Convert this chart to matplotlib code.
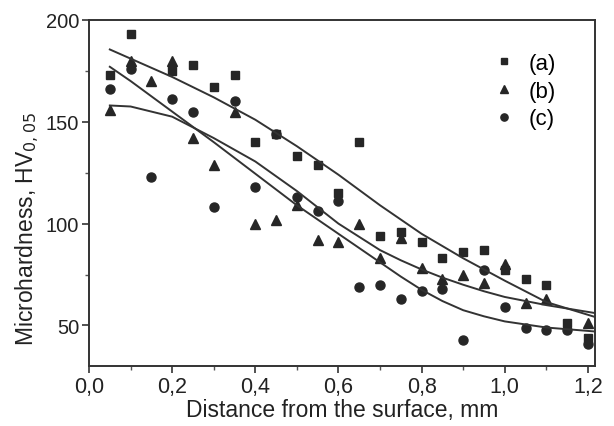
import matplotlib
matplotlib.use("Agg")
import matplotlib.pyplot as plt
from matplotlib.ticker import MultipleLocator, FuncFormatter

plt.rcParams['font.family'] = ['Liberation Sans', 'DejaVu Sans']

# measured points
x_a = [0.05, 0.1, 0.2, 0.25, 0.3, 0.35, 0.4, 0.45, 0.5, 0.55, 0.6, 0.65,
       0.7, 0.75, 0.8, 0.85, 0.9, 0.95, 1.0, 1.05, 1.1, 1.15, 1.2]
y_a = [173, 193, 175, 178, 167, 173, 140, 144, 133, 129, 115, 140,
       94, 96, 91, 83, 86, 87, 77, 73, 70, 51, 44]

x_b = [0.05, 0.1, 0.15, 0.2, 0.25, 0.3, 0.35, 0.4, 0.45, 0.5, 0.55, 0.6,
       0.65, 0.7, 0.75, 0.8, 0.85, 0.9, 0.95, 1.0, 1.05, 1.1, 1.2]
y_b = [156, 180, 170, 180, 142, 129, 155, 100, 102, 109, 92, 91,
       100, 83, 93, 78, 73, 75, 71, 80, 61, 63, 51]

x_c = [0.05, 0.1, 0.15, 0.2, 0.25, 0.3, 0.35, 0.4, 0.45, 0.5, 0.55, 0.6,
       0.65, 0.7, 0.75, 0.8, 0.85, 0.9, 0.95, 1.0, 1.05, 1.1, 1.15, 1.2]
y_c = [166, 176, 123, 161, 155, 108, 160, 118, 144, 113, 106, 111,
       69, 70, 63, 67, 68, 43, 77, 59, 49, 48, 48, 41]

# fitted curves
fit_x = [0.05, 0.1, 0.2, 0.3, 0.4, 0.5, 0.6, 0.7, 0.75, 0.8, 0.85, 0.9, 0.95,
         1.0, 1.1, 1.22]
fit_a = [185.5, 181, 172, 162, 151, 138, 124, 109, 102, 95, 89, 83, 77.5,
         72, 61.5, 54]
fit_b = [158, 157.5, 152.5, 142, 130.5, 116, 100, 87, 82, 77.5, 73.5, 70, 66.8,
         64, 60, 56]
fit_c = [177, 170, 155, 140, 124.5, 109, 95, 81, 74, 67.5, 62, 57.5, 54.5,
         52, 49, 47]

labels = ['(a)', '(b)', '(c)']

dark = '#262626'

fig = plt.figure(figsize=(6.14, 4.27), dpi=100)
ax = fig.add_axes([0.145, 0.14, 0.824, 0.811])

ax.plot(x_a, y_a, 's', color=dark, ms=5.5, label=labels[0])
ax.plot(x_b, y_b, '^', color=dark, ms=7.5, label=labels[1])
ax.plot(x_c, y_c, 'o', color=dark, ms=6.5, label=labels[2])

for fy in [fit_a, fit_b, fit_c]:
    ax.plot(fit_x, fy, '-', color='#333333', lw=1.4)

ax.set_xlim(0, 1.217)
ax.set_ylim(30, 200)
ax.xaxis.set_major_locator(MultipleLocator(0.2))
ax.xaxis.set_minor_locator(MultipleLocator(0.1))
ax.yaxis.set_major_locator(MultipleLocator(50))
ax.yaxis.set_minor_locator(MultipleLocator(25))
ax.xaxis.set_major_formatter(FuncFormatter(lambda v, p: ('%.1f' % v).replace('.', ',')))

ax.tick_params(which='major', direction='out', length=5, width=1.2,
               colors='#333333', labelcolor='#222222', pad=2)
ax.tick_params(axis='x', labelsize=15.5)
ax.tick_params(axis='y', labelsize=14.5)
ax.tick_params(which='minor', direction='out', length=3, width=1.0, colors='#555555')
for s in ax.spines.values():
    s.set_linewidth(1.4)
    s.set_color('#333333')

ax.set_xlabel('Distance from the surface, mm', fontsize=16.5, color='#222222', labelpad=1)
ax.set_ylabel('Microhardness, HV$_{0,05}$', fontsize=16.5, color='#222222')
# label sits a little below the axes centre in the original
ax.yaxis.set_label_coords(-0.095, 0.40)

ax.legend(loc='upper right', bbox_to_anchor=(0.94, 0.93), frameon=False,
          fontsize=16, handlelength=1.0, handletextpad=0.6, labelspacing=0.3,
          borderaxespad=0, markerscale=0.8)

fig.savefig('out.png', dpi=100)
